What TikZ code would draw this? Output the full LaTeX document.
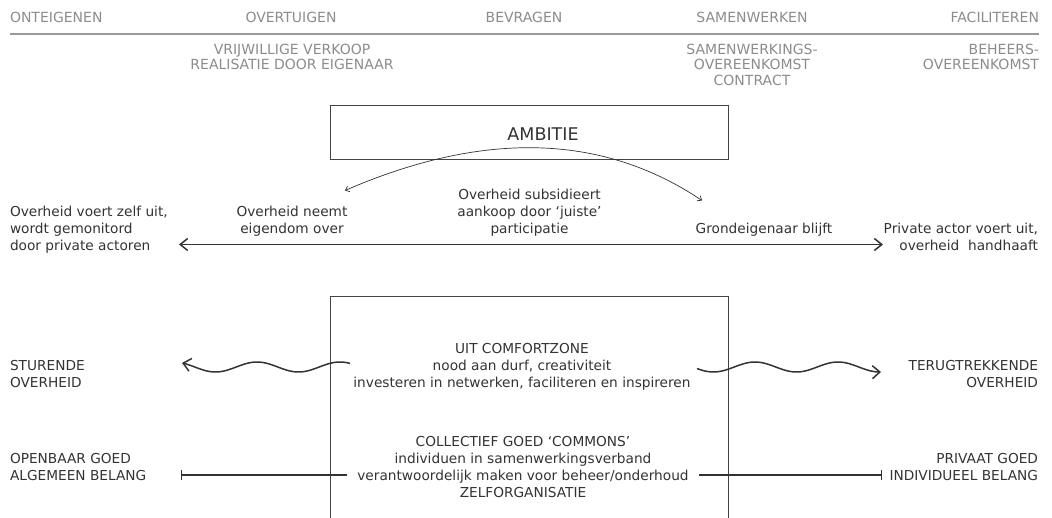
\documentclass[tikz,border=0pt]{standalone}
\usepackage{fontspec}
\setmainfont{DejaVu Sans}
\usetikzlibrary{arrows.meta}
\definecolor{ink}{HTML}{333333}
\definecolor{soft}{HTML}{8C8C8C}
\definecolor{rulecol}{HTML}{9A9A9A}
\definecolor{framecol}{HTML}{444444}
\begin{document}
\begin{tikzpicture}[x=1pt,y=-1pt,
  txt/.style={inner sep=0pt, outer sep=0pt, text=ink, font=\fontsize{13.7}{17}\selectfont},
  head/.style={inner sep=0pt, outer sep=0pt, text=soft, font=\fontsize{14}{15.5}\selectfont},
  frameline/.style={draw=framecol, line width=1pt},
  boxnode/.style={draw=framecol, line width=1pt, inner sep=0pt, minimum width=398pt, minimum height=54pt},
  ruleline/.style={draw=rulecol, line width=2pt},
  bigarrow/.style={draw=ink, line width=1.5pt, {Straight Barb[length=7.5pt,width=12pt]}-{Straight Barb[length=7.5pt,width=12pt]}},
  thinarrow/.style={draw=ink, line width=0.7pt, {Straight Barb[length=3.5pt,width=6pt]}-{Straight Barb[length=3.5pt,width=6pt]}},
  wave/.style={draw=ink, line width=1.5pt, -{Straight Barb[length=7.5pt,width=13pt]}},
  barline/.style={draw=ink, line width=1.2pt, -{Bar[width=10pt]}}
]
\useasboundingbox (0,0) rectangle (1052,518);

% header row
\node[head, anchor=base west] (h1) at (10,23) {ONTEIGENEN};
\node[head, anchor=base] (h2) at (291,23) {OVERTUIGEN};
\node[head, anchor=base] (h3) at (524,23) {BEVRAGEN};
\node[head, anchor=base] (h4) at (752,23) {SAMENWERKEN};
\node[head, anchor=base east] (h5) at (1039,23) {FACILITEREN};
\coordinate (ruleL) at (10,34);
\coordinate (ruleR) at (1039,34);
\draw[ruleline] (ruleL) -- (ruleR);

% (anchor=base of a multi-line node = baseline of its last line)
\node[head, align=center, anchor=base] (s2) at (292,70) {VRIJWILLIGE VERKOOP\\REALISATIE DOOR EIGENAAR};
\node[head, align=center, anchor=base] (s4) at (752,85.5) {SAMENWERKINGS-\\OVEREENKOMST\\CONTRACT};
\node[head, align=right, anchor=base east] (s5) at (1039,70) {BEHEERS-\\OVEREENKOMST};

% ambitie
\node[boxnode] (ambbox) at (529,133) {};
\node[txt, anchor=base, font=\fontsize{17.5}{20}\selectfont] (ambtext) at (543,141) {AMBITIE};

\coordinate (cL) at (345,190.5);
\coordinate (cR) at (702,200.5);
\draw[thinarrow] (cL) .. controls (480,132) and (600,132) .. (cR);

% middle row
\node[txt, align=left, anchor=base west] (govL) at (10,251) {Overheid voert zelf uit,\\wordt gemonitord\\door private actoren};
\node[txt, align=center, anchor=base] (neemt) at (292,234) {Overheid neemt\\eigendom over};
\node[txt, align=center, anchor=base] (subs) at (529.5,234) {Overheid subsidieert\\aankoop door ‘juiste’\\participatie};
\node[txt, anchor=base] (grond) at (764,234) {Grondeigenaar blijft};
\node[txt, align=right, anchor=base east] (privR) at (1038,251) {Private actor voert uit,\\overheid~ handhaaft};

\coordinate (mainL) at (179,244.5);
\coordinate (mainR) at (883,244.5);
\draw[bigarrow] (mainL) -- (mainR);

% lower frame
\draw[frameline] (330,522) -- (330,297) -- (728,297) -- (728,522);

\node[txt, align=center, anchor=base] (comfort) at (522,388) {UIT COMFORTZONE\\nood aan durf, creativiteit\\investeren in netwerken, faciliteren en inspireren};
\node[txt, align=left, anchor=base west] (stur) at (10,388) {STURENDE\\OVERHEID};
\node[txt, align=right, anchor=base east] (terug) at (1038,388) {TERUGTREKKENDE\\OVERHEID};

\draw[wave] plot[domain=350:182, samples=80, smooth] (\x, {367 - 5*sin(4.33735*(\x-236.25))});
\draw[wave] plot[domain=697:881, samples=80, smooth] (\x, {367 - 5*sin(4.33735*(\x-236.25))});

\node[txt, align=center, anchor=base] (commons) at (523,497.5) {COLLECTIEF GOED ‘COMMONS’\\individuen in samenwerkingsverband\\verantwoordelijk maken voor beheer/onderhoud\\ZELFORGANISATIE};
\node[txt, align=left, anchor=base west] (openbaar) at (10,480.5) {OPENBAAR GOED\\ALGEMEEN BELANG};
\node[txt, align=right, anchor=base east] (privaat) at (1038,480.5) {PRIVAAT GOED\\INDIVIDUEEL BELANG};

\coordinate (barLs) at (347,475);
\coordinate (barLe) at (181,475);
\coordinate (barRs) at (699,475);
\coordinate (barRe) at (882,475);
\draw[barline] (barLs) -- (barLe);
\draw[barline] (barRs) -- (barRe);
\end{tikzpicture}
\end{document}
